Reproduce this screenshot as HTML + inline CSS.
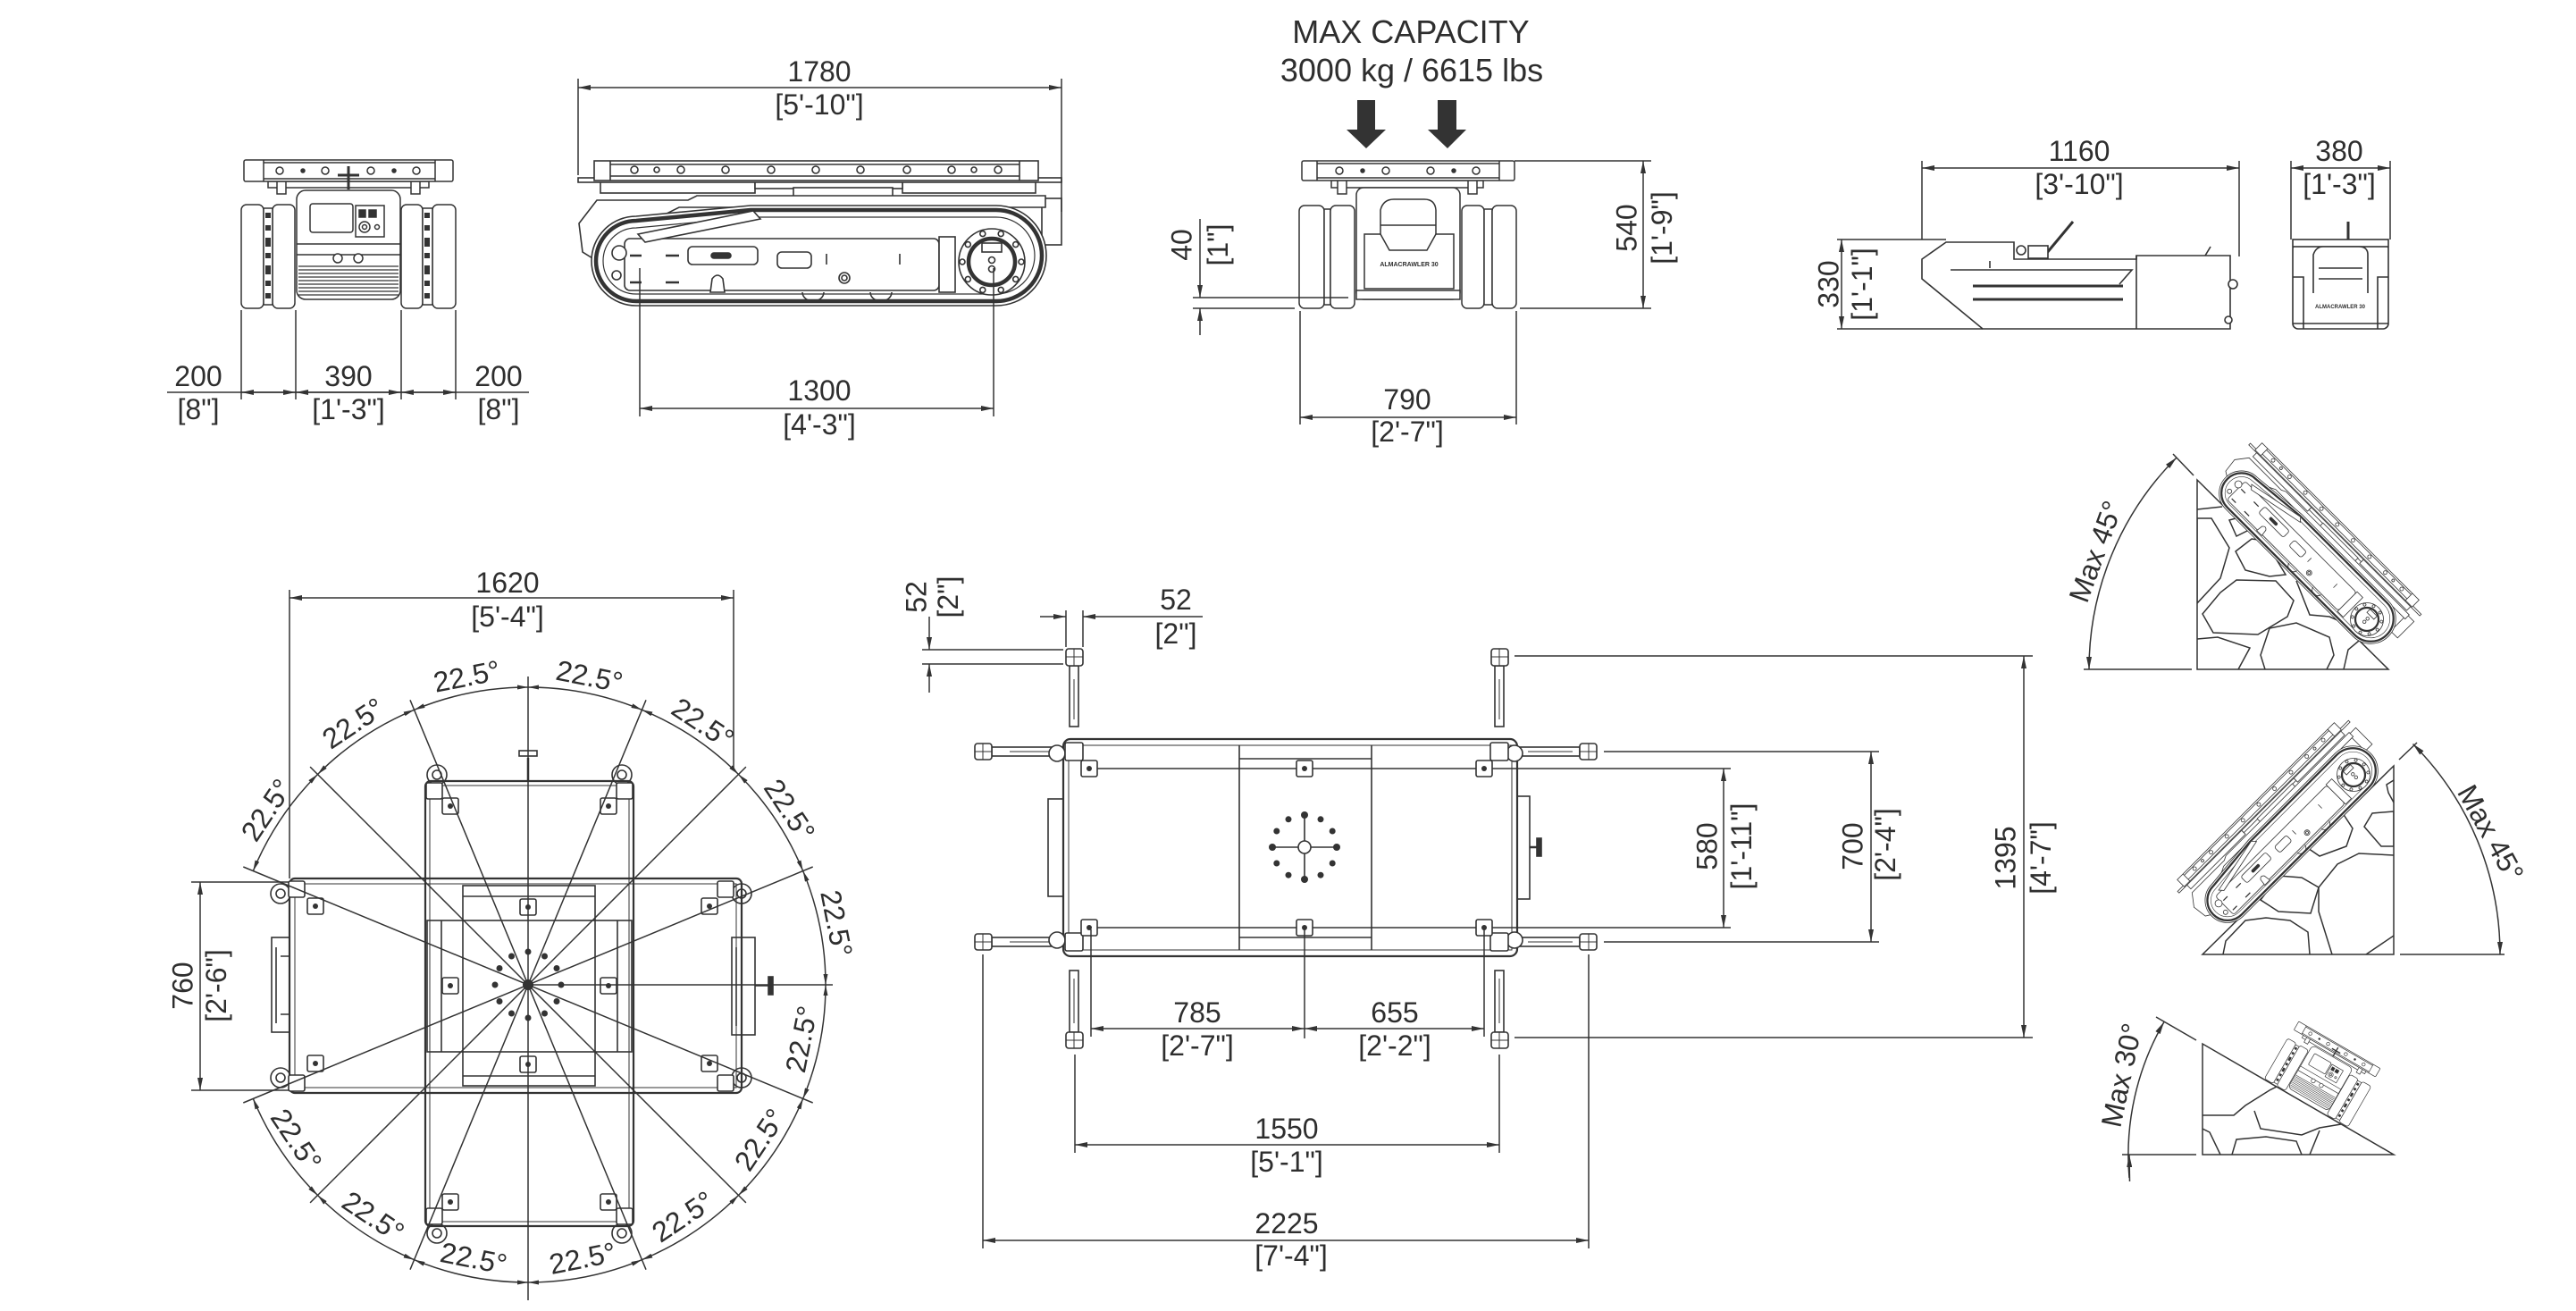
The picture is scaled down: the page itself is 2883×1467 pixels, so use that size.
<!DOCTYPE html>
<html><head><meta charset="utf-8">
<style>
html,body{margin:0;padding:0;background:#fff;width:2883px;height:1467px;overflow:hidden}
svg{display:block}
text{font-family:"Liberation Sans",Arial,sans-serif;fill:#2e2e2e;font-size:32px;text-anchor:middle}
.d{stroke:#333;stroke-width:1.5;fill:none}
.a{marker-start:url(#ar);marker-end:url(#ar)}
.e{marker-end:url(#ar)}
.s{marker-start:url(#as);marker-end:url(#as)}
</style></head><body>
<svg xmlns="http://www.w3.org/2000/svg" width="2883" height="1467" viewBox="0 0 2883 1467">
<defs>
<marker id="ar" viewBox="0 0 14 6" refX="14" refY="3" markerWidth="14" markerHeight="6" markerUnits="userSpaceOnUse" orient="auto-start-reverse"><path d="M0,0L14,3L0,6Z" fill="#333"/></marker>
<marker id="as" viewBox="0 0 12 5" refX="12" refY="2.5" markerWidth="12" markerHeight="5" markerUnits="userSpaceOnUse" orient="auto-start-reverse"><path d="M0,0L12,2.5L0,5Z" fill="#333"/></marker>
<clipPath id="t1"><polygon points="2459,537 2459,749 2673,749"/></clipPath>
<clipPath id="t2"><polygon points="2679,857 2679,1068 2465,1068"/></clipPath>
<clipPath id="t3"><polygon points="2465,1168 2465,1292 2679,1292"/></clipPath>

<g id="sv" stroke="#333" stroke-width="1.6" fill="#fff">
 <rect x="672" y="203" width="173" height="13"/>
 <rect x="1010" y="203" width="149" height="13"/>
 <rect x="845" y="202" width="165" height="9"/>
 <rect x="888" y="210" width="111" height="57"/>
 <rect x="1166" y="222" width="22" height="52"/>
 <path d="M648,250 L668,224 L770,224 L780,219 L1170,219 L1170,232 L760,232 L700,262 L668,292 L652,282 Z"/>
 <rect x="647" y="199" width="541" height="5"/>
 <rect x="665" y="180" width="497" height="22"/>
 <path d="M683,180V202M1141,180V202M683,184H1141M683,197H1141" fill="none"/>
 <g fill="none">
  <circle cx="710" cy="190" r="4"/><circle cx="735" cy="190" r="3"/><circle cx="762" cy="190" r="4"/>
  <circle cx="812" cy="190" r="4"/><circle cx="863" cy="190" r="4"/><circle cx="913" cy="190" r="4"/>
  <circle cx="963" cy="190" r="4"/><circle cx="1015" cy="190" r="4"/><circle cx="1065" cy="190" r="4"/>
  <circle cx="1090" cy="190" r="3"/><circle cx="1117" cy="190" r="4"/>
 </g>
 <path d="M712,342 L1115,342 A56,56 0 0 0 1115,230 L840,230 L712,242 A50,50 0 0 0 712,342 Z"/>
 <path d="M712,337 L1115,337 A51,51 0 0 0 1115,235 L840,235 L712,247 A45,45 0 0 0 712,337 Z" fill="none" stroke-width="4.5"/>
 <path d="M712,329 L1115,329 A43,43 0 0 0 1115,243 L840,243 L712,255 A37,37 0 0 0 712,329 Z" fill="none" stroke-width="1.2"/>
 <rect x="699" y="267" width="352" height="58" rx="6"/>
 <path d="M714,262 L843,236 L851,245 L722,271 Z"/>
 <rect x="770" y="276" width="78" height="20" rx="5"/>
 <rect x="796" y="283" width="22" height="6" rx="3" fill="#333"/>
 <rect x="870" y="282" width="38" height="18" rx="5"/>
 <path d="M925,284V296M1007,284V296" fill="none"/>
 <path d="M705,286H718M745,286H760M705,316H718M745,316H760" fill="none" stroke-width="2.5"/>
 <circle cx="945" cy="311" r="6"/><circle cx="945" cy="311" r="3"/>
 <path d="M795,327 L797,312 Q803,304 809,312 L811,327 Z"/>
 <path d="M898,327 A12,10 0 0 0 922,327 M974,327 A12,10 0 0 0 998,327" fill="none"/>
 <rect x="1051" y="265" width="18" height="62"/>
 <circle cx="1110" cy="293" r="37"/>
 <g>
  <circle cx="1143" cy="293" r="3"/><circle cx="1136.7" cy="312.4" r="3"/><circle cx="1120.2" cy="324.4" r="3"/>
  <circle cx="1099.8" cy="324.4" r="3"/><circle cx="1083.3" cy="312.4" r="3"/><circle cx="1077" cy="293" r="3"/>
  <circle cx="1083.3" cy="273.6" r="3"/><circle cx="1099.8" cy="261.6" r="3"/><circle cx="1120.2" cy="261.6" r="3"/>
  <circle cx="1136.7" cy="273.6" r="3"/>
 </g>
 <circle cx="1110" cy="293" r="26" fill="none" stroke-width="4.5"/>
 <rect x="1099" y="272" width="22" height="10"/>
 <circle cx="1110" cy="291" r="3.5"/><circle cx="1110" cy="301" r="3.5"/>
 <circle cx="693" cy="283" r="8"/>
 <circle cx="690" cy="308" r="5"/>
</g>

<g id="fv" stroke="#333" stroke-width="1.5" fill="#fff">
 <rect x="300" y="203" width="180" height="7"/>
 <rect x="310" y="203" width="10" height="14"/>
 <rect x="460" y="203" width="10" height="14"/>
 <rect x="332" y="213" width="116" height="122" rx="10"/>
 <path d="M332,273H448M332,285H448" fill="none"/>
 <rect x="347" y="228" width="48" height="32" rx="3"/>
 <rect x="398" y="230" width="32" height="35"/>
 <circle cx="408" cy="254" r="6"/><circle cx="408" cy="254" r="2.5"/>
 <circle cx="422" cy="254" r="2.5"/>
 <rect x="402" y="235" width="7" height="8" fill="#333"/><rect x="413" y="235" width="8" height="8" fill="#333"/>
 <circle cx="378" cy="289" r="5"/><circle cx="401" cy="289" r="5"/>
 <path d="M334,298H446M334,302H446M334,306H446M334,310H446M334,314H446M334,318H446M334,322H446M334,326H446M334,330H446" fill="none" stroke-width="1.2"/>
 <rect x="273" y="179" width="234" height="24" rx="2"/>
 <path d="M295,179V203M487,179V203M295,182H487M295,200H487" fill="none"/>
 <g fill="none"><circle cx="313" cy="191" r="4"/><circle cx="364" cy="191" r="4"/><circle cx="415" cy="191" r="4"/><circle cx="466" cy="191" r="4"/></g>
 <circle cx="339" cy="191" r="2" fill="#333"/><circle cx="441" cy="191" r="2" fill="#333"/>
 <path d="M378,196 H402 M390,186 V212" fill="none" stroke-width="3"/>
 <rect x="270" y="229" width="25" height="116" rx="6"/>
 <rect x="305" y="229" width="25" height="116" rx="6"/>
 <rect x="295" y="233" width="10" height="108"/>
 <rect x="449" y="229" width="24" height="116" rx="6"/>
 <rect x="484" y="229" width="26" height="116" rx="6"/>
 <rect x="473" y="233" width="11" height="108"/>
 <g fill="#333" stroke="none">
  <rect x="297" y="238" width="6" height="6"/><rect x="297" y="252" width="6" height="6"/><rect x="297" y="266" width="6" height="10"/><rect x="297" y="283" width="6" height="6"/><rect x="297" y="297" width="6" height="10"/><rect x="297" y="314" width="6" height="6"/><rect x="297" y="328" width="6" height="6"/>
  <rect x="475" y="238" width="6" height="6"/><rect x="475" y="252" width="6" height="6"/><rect x="475" y="266" width="6" height="10"/><rect x="475" y="283" width="6" height="6"/><rect x="475" y="297" width="6" height="10"/><rect x="475" y="314" width="6" height="6"/><rect x="475" y="328" width="6" height="6"/>
 </g>
</g>
</defs>

<!-- ============ TOP ROW ============ -->
<use href="#fv"/>
<g class="d">
 <path d="M270,347V447M331,347V447M449,347V447M510,347V447"/>
 <path d="M187,439H592"/>
 <path class="a" d="M270,439H331"/><path class="a" d="M331,439H449"/><path class="a" d="M449,439H510"/>
</g>
<text x="222" y="432">200</text><text x="222" y="469">[8"]</text>
<text x="390" y="432">390</text><text x="390" y="469">[1'-3"]</text>
<text x="558" y="432">200</text><text x="558" y="469">[8"]</text>

<use href="#sv"/>
<g class="d">
 <path d="M647,88V196M1188,88V237"/>
 <path class="a" d="M647,98H1188"/>
 <path d="M716,300V466M1112,300V466"/>
 <path class="a" d="M716,457H1112"/>
</g>
<text x="917" y="91">1780</text><text x="917" y="128">[5'-10"]</text>
<text x="917" y="448">1300</text><text x="917" y="486">[4'-3"]</text>

<!-- front view 2 -->
<text x="1579" y="48" style="font-size:36px">MAX CAPACITY</text>
<text x="1580" y="91" style="font-size:36px">3000 kg / 6615 lbs</text>
<g fill="#333">
 <rect x="1519" y="112" width="20" height="34"/><path d="M1507,145H1551L1529,166Z"/>
 <rect x="1609" y="112" width="21" height="34"/><path d="M1598,145H1641L1620,166Z"/>
</g>
<g stroke="#333" stroke-width="1.5" fill="#fff">
 <rect x="1490" y="202" width="170" height="8"/>
 <rect x="1497" y="202" width="10" height="15"/><rect x="1643" y="202" width="10" height="15"/>
 <rect x="1518" y="210" width="116" height="125" rx="8"/>
 <path d="M1545,277 L1545,235 Q1548,223 1560,223 L1594,223 Q1606,223 1607,235 L1607,277"/>
 <path d="M1545,252H1607" fill="none"/>
 <path d="M1527,262 L1545,262 L1555,280 L1597,280 L1607,262 L1627,262 L1627,323 L1527,323 Z"/>
 <rect x="1518" y="325" width="116" height="10"/>
 <rect x="1457" y="180" width="238" height="22" rx="2"/>
 <path d="M1474,180V202M1678,180V202M1474,183H1678M1474,199H1678" fill="none"/>
 <g fill="none"><circle cx="1499" cy="191" r="4"/><circle cx="1551" cy="191" r="4"/><circle cx="1601" cy="191" r="4"/><circle cx="1652" cy="191" r="4"/></g>
 <circle cx="1525" cy="191" r="2" fill="#333"/><circle cx="1627" cy="191" r="2" fill="#333"/>
 <rect x="1454" y="230" width="28" height="115" rx="6"/>
 <rect x="1482" y="234" width="7" height="107"/>
 <rect x="1489" y="230" width="27" height="115" rx="6"/>
 <rect x="1636" y="230" width="25" height="115" rx="6"/>
 <rect x="1661" y="234" width="9" height="107"/>
 <rect x="1670" y="230" width="27" height="115" rx="6"/>
</g>
<text x="1577" y="298" style="font-size:7px;font-weight:bold">ALMACRAWLER 30</text>
<g class="d">
 <path d="M1695,180H1848M1701,345H1848"/>
 <path class="a" d="M1839,180V345"/>
 <path d="M1335,333H1509M1335,345H1449"/>
 <path class="e" d="M1343,245V333"/><path class="e" d="M1343,375V345"/>
 <path d="M1455,348V475M1697,348V475"/>
 <path class="a" d="M1455,467H1697"/>
</g>
<text transform="translate(1322,274) rotate(-90)" y="11.5">40</text>
<text transform="translate(1366,274) rotate(-90)" y="8">[1"]</text>
<text transform="translate(1820,255) rotate(-90)" y="11.5">540</text>
<text transform="translate(1863,255) rotate(-90)" y="8">[1'-9"]</text>
<text x="1575" y="458">790</text><text x="1575" y="494">[2'-7"]</text>

<!-- small robot side -->
<g stroke="#333" stroke-width="1.6" fill="#fff">
 <path d="M2178,271 L2254,271 L2254,290 L2391,290 L2391,286 L2496,286 L2496,368 L2219,368 L2151,312 L2151,290 Z"/>
 <path d="M2183,302 H2386 L2372,318 M2391,286 V368 M2227,292 V300" fill="none"/>
 <path d="M2208,320H2376M2208,335H2376" fill="none" stroke-width="3"/>
 <path d="M2290,284 L2320,248" fill="none" stroke-width="3"/>
 <rect x="2270" y="275" width="22" height="14"/>
 <circle cx="2262" cy="280" r="5"/>
 <circle cx="2499" cy="318" r="5"/><circle cx="2494" cy="358" r="4"/>
 <path d="M2468,286 L2474,276" fill="none"/>
</g>
<!-- small robot front -->
<g stroke="#333" stroke-width="1.6" fill="#fff">
 <path d="M2628,248V268" fill="none" stroke-width="3"/>
 <rect x="2566" y="272" width="107" height="96" rx="6"/>
 <rect x="2566" y="268" width="107" height="8"/>
 <path d="M2589,328 L2589,285 Q2592,276 2600,276 L2640,276 Q2650,276 2650,285 L2650,328" />
 <path d="M2595,300H2644M2595,312H2644" fill="none"/>
 <path d="M2566,310H2578V368M2673,310H2661V368M2566,362H2673" fill="none"/>
</g>
<text x="2619" y="345" style="font-size:6px;font-weight:bold">ALMACRAWLER 30</text>
<g class="d">
 <path d="M2151,180V268M2506,180V287M2564,180V268M2675,180V268"/>
 <path class="a" d="M2151,188H2506"/>
 <path class="a" d="M2564,188H2675"/>
 <path d="M2056,268H2178M2056,368H2219"/>
 <path class="a" d="M2061,268V368"/>
</g>
<text x="2327" y="180">1160</text><text x="2327" y="217">[3'-10"]</text>
<text x="2618" y="180">380</text><text x="2618" y="217">[1'-3"]</text>
<text transform="translate(2046,318) rotate(-90)" y="11.5">330</text>
<text transform="translate(2087,318) rotate(-90)" y="8">[1'-1"]</text>

<!-- ============ PLAN VIEW 1 (circle) ============ -->
<g stroke="#333" stroke-width="1.6" fill="none">
 <circle cx="489" cy="867" r="11"/><circle cx="489" cy="867" r="5"/>
 <circle cx="696" cy="867" r="11"/><circle cx="696" cy="867" r="5"/>
 <circle cx="489" cy="1380" r="11"/><circle cx="489" cy="1380" r="5"/>
 <circle cx="696" cy="1380" r="11"/><circle cx="696" cy="1380" r="5"/>
 <circle cx="314" cy="1000" r="11"/><circle cx="314" cy="1000" r="5"/>
 <circle cx="314" cy="1206" r="11"/><circle cx="314" cy="1206" r="5"/>
 <circle cx="830" cy="1000" r="11"/><circle cx="830" cy="1000" r="5"/>
 <circle cx="830" cy="1206" r="11"/><circle cx="830" cy="1206" r="5"/>
 <rect x="324" y="983" width="506" height="240" rx="6" stroke-width="2.2"/>
 <rect x="330" y="989" width="494" height="228" stroke-width="1"/>
 <rect x="476" y="874" width="233" height="498" rx="6" stroke-width="2.2"/>
 <rect x="481" y="879" width="223" height="488" stroke-width="1"/>
 <rect x="518" y="991" width="148" height="224"/>
 <path d="M518,1003H666M518,1204H666"/>
 <rect x="478" y="1030" width="229" height="147"/>
 <path d="M494,1030V1177M691,1030V1177"/>
 <rect x="304" y="1049" width="20" height="106"/>
 <path d="M309,1060V1145M314,1070H324M314,1135H324"/>
 <rect x="819" y="1049" width="26" height="109"/>
 <path d="M845,1103H862M824,1060V1148"/>
 <rect x="860" y="1093" width="5" height="20" fill="#333"/>
 <path d="M591,848V874" stroke-width="2.5"/>
 <rect x="581" y="840" width="20" height="6" fill="#fff"/>
</g>
<g stroke="#333" stroke-width="1.6" fill="#fff">
 <rect x="323" y="986" width="18" height="18" rx="2"/><rect x="344" y="1005" width="18" height="18" rx="2"/>
 <rect x="803" y="986" width="18" height="18" rx="2"/><rect x="785" y="1005" width="18" height="18" rx="2"/>
 <rect x="323" y="1203" width="18" height="18" rx="2"/><rect x="344" y="1181" width="18" height="18" rx="2"/>
 <rect x="803" y="1203" width="18" height="18" rx="2"/><rect x="785" y="1181" width="18" height="18" rx="2"/>
 <rect x="477" y="876" width="18" height="18" rx="2"/><rect x="495" y="893" width="18" height="18" rx="2"/>
 <rect x="690" y="876" width="18" height="18" rx="2"/><rect x="672" y="893" width="18" height="18" rx="2"/>
 <rect x="477" y="1352" width="18" height="18" rx="2"/><rect x="495" y="1336" width="18" height="18" rx="2"/>
 <rect x="690" y="1352" width="18" height="18" rx="2"/><rect x="672" y="1336" width="18" height="18" rx="2"/>
 <rect x="582" y="1006" width="18" height="18" rx="2"/><rect x="582" y="1182" width="18" height="18" rx="2"/>
 <rect x="495" y="1094" width="18" height="18" rx="2"/><rect x="672" y="1094" width="18" height="18" rx="2"/>
</g>
<g fill="#333">
 <circle cx="353" cy="1014" r="3"/><circle cx="794" cy="1014" r="3"/><circle cx="353" cy="1190" r="3"/><circle cx="794" cy="1190" r="3"/>
 <circle cx="504" cy="902" r="3"/><circle cx="681" cy="902" r="3"/><circle cx="504" cy="1345" r="3"/><circle cx="681" cy="1345" r="3"/>
 <circle cx="591" cy="1015" r="3"/><circle cx="591" cy="1191" r="3"/><circle cx="504" cy="1103" r="3"/><circle cx="681" cy="1103" r="3"/>
 <circle cx="591" cy="1102" r="6"/>
 <circle cx="628" cy="1102" r="3.5"/><circle cx="623" cy="1083.5" r="3.5"/><circle cx="609.5" cy="1070" r="3.5"/>
 <circle cx="591" cy="1065" r="3.5"/><circle cx="572.5" cy="1070" r="3.5"/><circle cx="559" cy="1083.5" r="3.5"/>
 <circle cx="554" cy="1102" r="3.5"/><circle cx="559" cy="1120.5" r="3.5"/><circle cx="572.5" cy="1134" r="3.5"/>
 <circle cx="591" cy="1139" r="3.5"/><circle cx="609.5" cy="1134" r="3.5"/><circle cx="623" cy="1120.5" r="3.5"/>
</g>
<g class="d">
 <path d="M909.7,970L272.3,1234M834.9,858.1L347.1,1345.9M723,783.3L459,1420.7M591,757V1455M459,783.3L723,1420.7M347.1,858.1L834.9,1345.9M272.3,970L909.7,1234M591,1102H932"/>
 <path class="s" d="M283.3,974.6 A333,333 0 0 1 355.5,866.5"/>
 <path class="s" d="M355.5,866.5 A333,333 0 0 1 463.6,794.3"/>
 <path class="s" d="M463.6,794.3 A333,333 0 0 1 591,769"/>
 <path class="s" d="M591,769 A333,333 0 0 1 718.4,794.3"/>
 <path class="s" d="M718.4,794.3 A333,333 0 0 1 826.5,866.5"/>
 <path class="s" d="M826.5,866.5 A333,333 0 0 1 898.7,974.6"/>
 <path class="s" d="M898.7,974.6 A333,333 0 0 1 924,1102"/>
 <path class="s" d="M924,1102 A333,333 0 0 1 898.7,1229.4"/>
 <path class="s" d="M898.7,1229.4 A333,333 0 0 1 826.5,1337.5"/>
 <path class="s" d="M826.5,1337.5 A333,333 0 0 1 718.4,1409.7"/>
 <path class="s" d="M718.4,1409.7 A333,333 0 0 1 591,1435"/>
 <path class="s" d="M591,1435 A333,333 0 0 1 463.6,1409.7"/>
 <path class="s" d="M463.6,1409.7 A333,333 0 0 1 355.5,1337.5"/>
 <path class="s" d="M355.5,1337.5 A333,333 0 0 1 283.3,1229.4"/>
 <path d="M324,660V983M821,660V862"/>
 <path class="a" d="M324,669H821"/>
 <path d="M214,987H324M214,1220H324"/>
 <path class="a" d="M224,987V1220"/>
</g>
<text x="568" y="663">1620</text><text x="568" y="701">[5'-4"]</text>
<text transform="translate(204,1103) rotate(-90)" y="11.5">760</text>
<text transform="translate(245,1103) rotate(-90)" y="8">[2'-6"]</text>
<g style="font-size:31px">
 <text transform="translate(936.2,1033.3) rotate(78.75)" y="11">22.5°</text>
 <text transform="translate(883.7,906.4) rotate(56.25)" y="11">22.5°</text>
 <text transform="translate(786.6,809.3) rotate(33.75)" y="11">22.5°</text>
 <text transform="translate(659.7,756.8) rotate(11.25)" y="11">22.5°</text>
 <text transform="translate(522.3,756.8) rotate(-11.25)" y="11">22.5°</text>
 <text transform="translate(395.4,809.3) rotate(-33.75)" y="11">22.5°</text>
 <text transform="translate(298.3,906.4) rotate(-56.25)" y="11">22.5°</text>
 <text transform="translate(897,1162.9) rotate(-78.75)" y="11">22.5°</text>
 <text transform="translate(850.4,1275.3) rotate(-56.25)" y="11">22.5°</text>
 <text transform="translate(764.3,1361.4) rotate(-33.75)" y="11">22.5°</text>
 <text transform="translate(651.9,1408) rotate(-11.25)" y="11">22.5°</text>
 <text transform="translate(530.1,1408) rotate(11.25)" y="11">22.5°</text>
 <text transform="translate(417.7,1361.4) rotate(33.75)" y="11">22.5°</text>
 <text transform="translate(331.6,1275.3) rotate(56.25)" y="11">22.5°</text>
</g>

<!-- ============ PLAN VIEW 2 ============ -->
<g stroke="#333" stroke-width="1.6" fill="#fff">
 <rect x="1110" y="836" width="80" height="10"/><rect x="1698" y="836" width="70" height="10"/>
 <rect x="1110" y="1049" width="80" height="10"/><rect x="1698" y="1049" width="70" height="10"/>
 <rect x="1197" y="745" width="10" height="68"/><rect x="1673" y="745" width="10" height="68"/>
 <rect x="1197" y="1086" width="10" height="69"/><rect x="1673" y="1086" width="10" height="69"/>
 <rect x="1091" y="832" width="19" height="18" rx="3"/><rect x="1768" y="832" width="19" height="18" rx="3"/>
 <rect x="1091" y="1045" width="19" height="18" rx="3"/><rect x="1768" y="1045" width="19" height="18" rx="3"/>
 <rect x="1193" y="726" width="19" height="19" rx="3"/><rect x="1669" y="726" width="19" height="19" rx="3"/>
 <rect x="1193" y="1155" width="19" height="18" rx="3"/><rect x="1669" y="1155" width="19" height="18" rx="3"/>
 <path d="M1100,832V850M1091,841H1110M1778,832V850M1768,841H1787M1100,1045V1063M1091,1054H1110M1778,1045V1063M1768,1054H1787M1202,726V745M1193,735H1212M1678,726V745M1669,735H1688M1202,1155V1173M1193,1164H1212M1678,1155V1173M1669,1164H1688" fill="none" stroke-width="1"/>
 <path d="M1130,841H1180M1710,841H1760M1130,1054H1180M1710,1054H1760M1202,760V805M1678,760V805M1202,1095V1145M1678,1095V1145" fill="none" stroke-width="1"/>
 <rect x="1173" y="894" width="20" height="109"/>
 <rect x="1687" y="891" width="25" height="115"/>
 <path d="M1712,948H1722" stroke-width="2.5"/>
 <rect x="1720" y="938" width="5" height="20" fill="#333"/>
 <rect x="1190" y="827" width="508" height="243" rx="8" stroke-width="2.2"/>
 <rect x="1196" y="834" width="496" height="229" fill="none" stroke-width="1"/>
 <circle cx="1183" cy="843" r="9"/><circle cx="1695" cy="843" r="9"/>
 <circle cx="1183" cy="1052" r="9"/><circle cx="1695" cy="1052" r="9"/>
 <path d="M1387,834V1063M1535,834V1063M1387,849H1535M1387,1049H1535" fill="none"/>
 <rect x="1192" y="831" width="20" height="20" rx="2"/><rect x="1668" y="831" width="20" height="20" rx="2"/>
 <rect x="1192" y="1044" width="20" height="20" rx="2"/><rect x="1668" y="1044" width="20" height="20" rx="2"/>
</g>
<g class="d">
 <path d="M1219,860H1937M1219,1038H1937"/>
</g>
<g stroke="#333" stroke-width="1.6" fill="#fff">
 <rect x="1210" y="851" width="18" height="18" rx="2"/><rect x="1451" y="851" width="18" height="18" rx="2"/><rect x="1652" y="851" width="18" height="18" rx="2"/>
 <rect x="1210" y="1029" width="18" height="18" rx="2"/><rect x="1451" y="1029" width="18" height="18" rx="2"/><rect x="1652" y="1029" width="18" height="18" rx="2"/>
 <path d="M1460,912V984M1424,948H1496" fill="none"/>
 <circle cx="1460" cy="948" r="7"/>
</g>
<g fill="#333">
 <circle cx="1219" cy="860" r="3"/><circle cx="1460" cy="860" r="3"/><circle cx="1661" cy="860" r="3"/>
 <circle cx="1219" cy="1038" r="3"/><circle cx="1460" cy="1038" r="3"/><circle cx="1661" cy="1038" r="3"/>
 <circle cx="1496" cy="948" r="4"/><circle cx="1491.2" cy="930" r="3.5"/><circle cx="1478" cy="916.8" r="3.5"/>
 <circle cx="1460" cy="912" r="4"/><circle cx="1442" cy="916.8" r="3.5"/><circle cx="1428.8" cy="930" r="3.5"/>
 <circle cx="1424" cy="948" r="4"/><circle cx="1428.8" cy="966" r="3.5"/><circle cx="1442" cy="979.2" r="3.5"/>
 <circle cx="1460" cy="984" r="4"/><circle cx="1478" cy="979.2" r="3.5"/><circle cx="1491.2" cy="966" r="3.5"/>
</g>
<g class="d">
 <path d="M1032,727H1190M1032,743H1190"/>
 <path class="e" d="M1040,690V727"/><path class="e" d="M1040,775V743"/>
 <path d="M1193,683V724M1212,683V724"/>
 <path class="e" d="M1164,690H1193"/><path class="e" d="M1346,690H1212"/>
 <path d="M1221,1040V1160M1460,1040V1162M1661,1040V1160"/>
 <path class="a" d="M1221,1151H1460"/><path class="a" d="M1460,1151H1661"/>
 <path d="M1203,1180V1290M1678,1180V1290"/>
 <path class="a" d="M1203,1281H1678"/>
 <path d="M1100,1068V1397M1778,1068V1397"/>
 <path class="a" d="M1100,1388H1778"/>
 <path class="a" d="M1929,860V1038"/>
 <path d="M1795,841H2103M1795,1054H2103"/>
 <path class="a" d="M2094,841V1054"/>
 <path d="M1695,734H2275M1695,1161H2275"/>
 <path class="a" d="M2265,734V1161"/>
</g>
<text transform="translate(1025,668) rotate(-90)" y="11.5">52</text>
<text transform="translate(1064,668) rotate(-90)" y="8">[2"]</text>
<text x="1316" y="682">52</text><text x="1316" y="720">[2"]</text>
<text x="1340" y="1144">785</text><text x="1340" y="1181">[2'-7"]</text>
<text x="1561" y="1144">655</text><text x="1561" y="1181">[2'-2"]</text>
<text x="1440" y="1274">1550</text><text x="1440" y="1311">[5'-1"]</text>
<text x="1440" y="1380">2225</text><text x="1445" y="1416">[7'-4"]</text>
<text transform="translate(1910,947) rotate(-90)" y="11.5">580</text>
<text transform="translate(1952,947) rotate(-90)" y="8">[1'-11"]</text>
<text transform="translate(2073,947) rotate(-90)" y="11.5">700</text>
<text transform="translate(2113,945) rotate(-90)" y="8">[2'-4"]</text>
<text transform="translate(2244,960) rotate(-90)" y="11.5">1395</text>
<text transform="translate(2287,960) rotate(-90)" y="8">[4'-7"]</text>

<!-- ============ SLOPES ============ -->
<g class="d">
 <path d="M2459,537V749H2673Z"/>
 <path d="M2332,749H2453"/>
 <path d="M2432,508L2455,532"/>
 <path class="a" d="M2436,512 A335,335 0 0 0 2338,749"/>
 <g clip-path="url(#t1)">
  <polyline points="2459,570 2487,567"/>
  <polygon points="2459,580 2475,580 2495,613 2485,647 2459,675"/>
  <polygon points="2495,582 2513,577 2517,593 2503,600"/>
  <polygon points="2502,617 2520,603 2535,605 2558,643 2540,645 2513,638"/>
  <polygon points="2465,687 2485,663 2503,649 2547,650 2567,672 2560,690 2527,710 2477,708"/>
  <polyline points="2570,650 2585,688 2607,690 2630,700"/>
  <polyline points="2459,715 2482,713 2518,725 2505,749"/>
  <polyline points="2535,749 2530,733 2540,703 2570,697 2607,713 2612,733 2604,749"/>
  <polyline points="2623,749 2628,727 2640,717 2660,720"/>
 </g>
</g>
<use href="#sv" transform="translate(2649,693) rotate(45) scale(0.5) translate(-1110,-293)"/>
<text transform="translate(2345,617) rotate(-70)" y="11.5">Max 45°</text>

<g class="d">
 <path d="M2679,857V1068H2465Z"/>
 <path d="M2686,1068H2803"/>
 <path d="M2685,850L2705,831"/>
 <path class="a" d="M2700.5,832.5 A333,333 0 0 1 2798,1068"/>
 <g clip-path="url(#t2)">
  <polyline points="2679,873 2671,878 2673,887 2679,898"/>
  <polygon points="2679,908 2655,910 2646,925 2665,947 2679,947"/>
  <polyline points="2620,907 2633,927 2626,947 2596,958 2580,947"/>
  <polyline points="2679,957 2640,955 2616,967 2595,993 2595,1020 2610,1068"/>
  <polygon points="2530,1007 2550,980 2576,982 2595,993 2586,1022 2550,1020"/>
  <polyline points="2488,1068 2491,1053 2513,1030 2536,1027 2563,1030 2583,1043 2585,1068"/>
  <polyline points="2648,1068 2679,1047"/>
 </g>
</g>
<use href="#sv" transform="translate(2634,867) rotate(-45) scale(0.5) translate(-1110,-293)"/>
<text transform="translate(2788,932) rotate(61)" y="11.5">Max 45°</text>

<g class="d">
 <path d="M2465,1168V1292H2679Z"/>
 <path d="M2375,1292H2458"/>
 <path d="M2413,1138L2458,1164"/>
 <path class="e" d="M2383,1318 A297,297 0 0 1 2422,1143.5"/>
 <path class="e" d="M2383.5,1322 L2383,1292"/>
 <g clip-path="url(#t3)">
  <polyline points="2465,1248 2500,1248 2513,1237 2540,1220 2560,1210"/>
  <polyline points="2523,1243 2530,1263 2576,1270 2596,1262 2620,1258"/>
  <polyline points="2465,1263 2473,1267 2485,1292"/>
  <polyline points="2498,1292 2503,1275 2536,1272 2570,1277 2576,1292"/>
  <polyline points="2585,1292 2596,1265"/>
 </g>
</g>
<use href="#fv" transform="translate(2581,1234) rotate(30) scale(0.45) translate(-390,-345)"/>
<text transform="translate(2374,1203) rotate(-78)" y="11.5">Max 30°</text>

</svg>
</body></html>
